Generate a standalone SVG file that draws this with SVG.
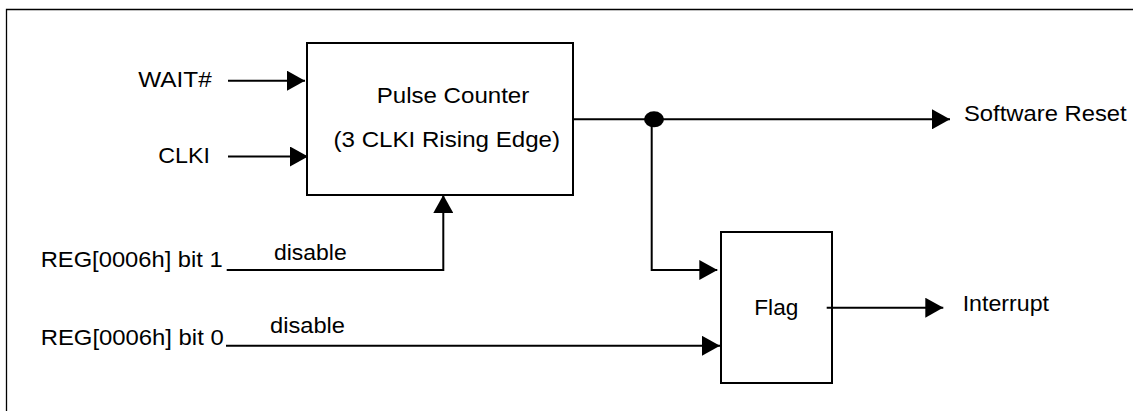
<svg xmlns="http://www.w3.org/2000/svg" width="1133" height="411" viewBox="0 0 1133 411">
<style>
text{font-family:"Liberation Sans",Arial,sans-serif;font-size:21.5px;fill:#000}
.box{fill:#fff;stroke:#000;stroke-width:2}
.w{fill:none;stroke:#000;stroke-width:2}
</style>
<defs>
<marker id="ar" viewBox="0 0 18 20" refX="18" refY="10" markerWidth="18" markerHeight="20" markerUnits="userSpaceOnUse" orient="auto">
<path d="M0,0 L18,10 L0,20 Z" fill="#000"/>
</marker>
</defs>
<rect width="1133" height="411" fill="#fff"/>
<path d="M6.5,411 V9.5 H1133" fill="none" stroke="#000" stroke-width="1.3"/>
<g id="pulse-counter">
<rect class="box" x="307" y="43" width="266" height="152"/>
<text x="376.7" y="102.7" textLength="152.6" lengthAdjust="spacingAndGlyphs">Pulse Counter</text>
<text x="333.5" y="146.7" textLength="226.5" lengthAdjust="spacingAndGlyphs">(3 CLKI Rising Edge)</text>
</g>
<g id="flag">
<rect class="box" x="721" y="232" width="111" height="151"/>
<text x="754.3" y="315" textLength="44" lengthAdjust="spacingAndGlyphs">Flag</text>
</g>
<g id="labels">
<text x="138.3" y="87.3" textLength="73.4" lengthAdjust="spacingAndGlyphs">WAIT#</text>
<text x="158.3" y="163.3" textLength="51.7" lengthAdjust="spacingAndGlyphs">CLKI</text>
<text x="40.7" y="266.7" textLength="182" lengthAdjust="spacingAndGlyphs">REG[0006h] bit 1</text>
<text x="40.7" y="345" textLength="183" lengthAdjust="spacingAndGlyphs">REG[0006h] bit 0</text>
<text x="274" y="260" textLength="72.7" lengthAdjust="spacingAndGlyphs">disable</text>
<text x="270" y="332.7" textLength="75" lengthAdjust="spacingAndGlyphs">disable</text>
<text x="964" y="120.7" textLength="162.7" lengthAdjust="spacingAndGlyphs">Software Reset</text>
<text x="962.7" y="310.7" textLength="86.3" lengthAdjust="spacingAndGlyphs">Interrupt</text>
</g>
<g id="connectors">
<path class="w" d="M228,80.7 H305" marker-end="url(#ar)"/>
<path class="w" d="M228,156.5 H308" marker-end="url(#ar)"/>
<path class="w" d="M573,119.3 H950" marker-end="url(#ar)"/>
<ellipse cx="654" cy="119.3" rx="10" ry="8" fill="#000"/>
<path class="w" d="M651.7,119.3 V270 H717.3" marker-end="url(#ar)"/>
<path class="w" d="M226.7,270 H443.3 V195" marker-end="url(#ar)"/>
<path class="w" d="M226,345.8 H720" marker-end="url(#ar)"/>
<path class="w" d="M826.7,307.7 H943.3" marker-end="url(#ar)"/>
</g>
</svg>
